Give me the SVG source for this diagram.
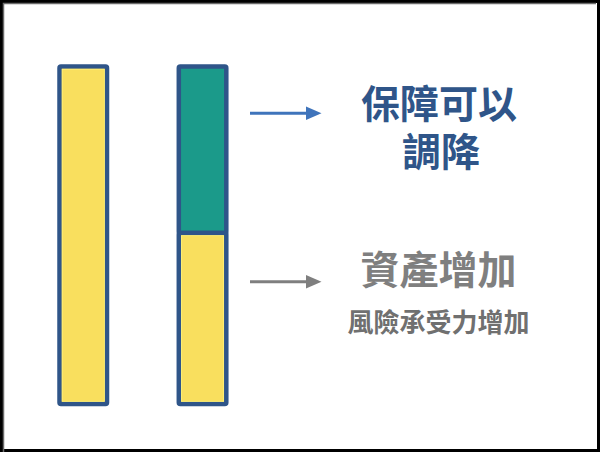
<svg xmlns="http://www.w3.org/2000/svg" width="600" height="452" viewBox="0 0 600 452">
<style>
.bar{stroke:#2f5589;stroke-width:4.5;stroke-linejoin:round}
.yel{fill:#f9df5e}
.teal{fill:#1b9a8a}
.inner{fill:none;stroke:#fff27a;stroke-width:0.8}
.t{font-family:"Noto Sans CJK TC","Noto Sans CJK SC",sans-serif;font-weight:bold;text-anchor:middle}
</style>
<rect x="0" y="0" width="600" height="452" fill="#fff"/>
<rect x="1.5" y="1.5" width="597" height="449" fill="none" stroke="#000" stroke-width="3"/>
<rect x="598" y="0" width="2" height="452" fill="#000"/>
<rect x="0" y="449" width="600" height="3" fill="#000"/>
<path d="M3.5 452 V3.5 H596" fill="none" stroke="#6b6b6b" stroke-width="1.5"/>
<g id="bar-left">
<rect class="bar yel" x="59.5" y="66.5" width="47.5" height="337.5" rx="1.5"/>
<rect class="inner" x="62.2" y="69.2" width="42.1" height="332.1"/>
</g>
<g id="bar-right">
<rect class="bar teal" x="178.8" y="66.5" width="47.5" height="166.5" rx="1.5"/>
<rect class="bar yel" x="178.8" y="233" width="47.5" height="171" rx="1.5"/>
<rect class="inner" x="181.5" y="235.7" width="42.1" height="165.6"/>
</g>
<g id="connectors">
<line x1="250" y1="113.3" x2="307" y2="113.3" stroke="#3f74bb" stroke-width="3"/>
<polygon points="306,106.5 321.5,113.3 306,120" fill="#3f74bb"/>
<line x1="250" y1="281.7" x2="307" y2="281.7" stroke="#7f7f7f" stroke-width="3"/>
<polygon points="306,275 321.5,281.7 306,288.5" fill="#7f7f7f"/>
</g>
<g id="label-top">
<text class="t" x="439" y="117.5" font-size="39" fill="#2f5589">保障可以</text>
<text class="t" x="441" y="165.5" font-size="39" fill="#2f5589">調降</text>
</g>
<g id="label-bottom">
<text class="t" x="438.5" y="284" font-size="39" fill="#7f7f7f">資產增加</text>
<text class="t" x="438.5" y="331.5" font-size="26" fill="#707070">風險承受力增加</text>
</g>
</svg>
